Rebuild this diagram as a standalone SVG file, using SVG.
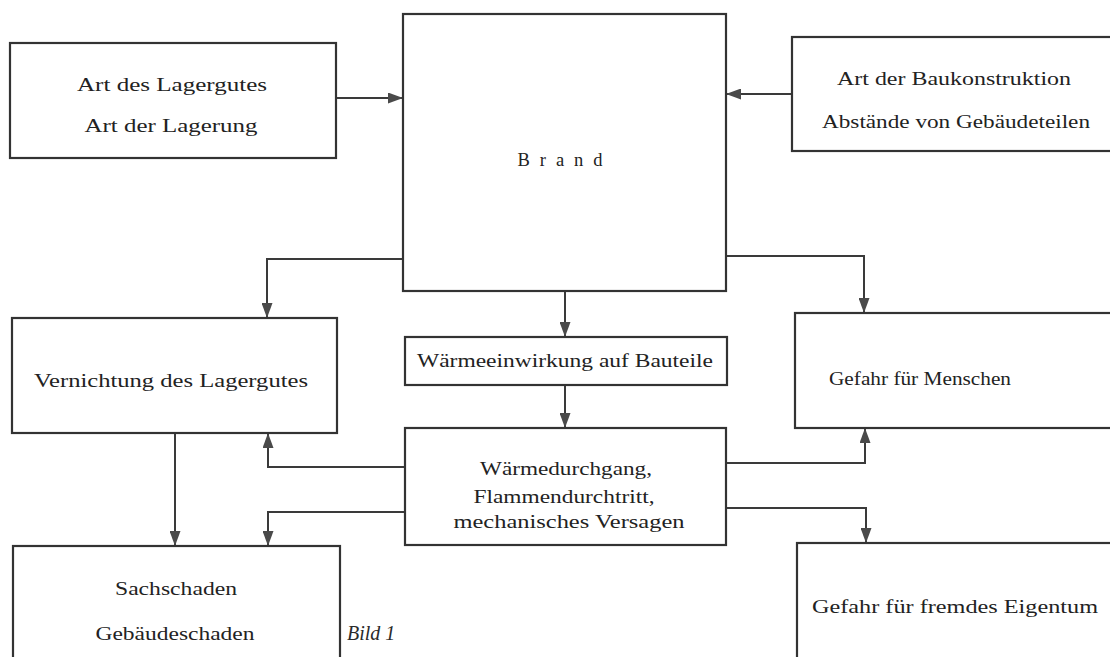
<svg xmlns="http://www.w3.org/2000/svg" width="1110" height="657" viewBox="0 0 1110 657">
<style>
.box{fill:#fff;stroke:#333;stroke-width:2.2}
.con{fill:none;stroke:#3a3a3a;stroke-width:2}
.t{font-family:"Liberation Serif","DejaVu Serif",serif;font-size:18.5px;fill:#222;text-anchor:middle}
.cap{font-family:"Liberation Serif","DejaVu Serif",serif;font-size:20px;font-style:italic;fill:#2a2a2a}
</style>
<defs>
<marker id="ah" markerUnits="userSpaceOnUse" markerWidth="15" markerHeight="11" refX="15" refY="5.5" orient="auto">
<path d="M0,0 L15,5.5 L0,11 z" fill="#4a4a4a"/>
</marker>
</defs>
<rect width="1110" height="657" fill="#fff"/>
<g id="connectors" class="con" marker-end="url(#ah)">
<path d="M336,98 H403"/>
<path d="M792,94 H726"/>
<path d="M403,259 H267 V318"/>
<path d="M726,256 H864 V313"/>
<path d="M565,291 V337"/>
<path d="M565,385 V428"/>
<path d="M175,433 V546"/>
<path d="M405,467 H268 V433"/>
<path d="M405,512 H268 V546"/>
<path d="M726,463 H865 V428"/>
<path d="M726,508 H866 V543"/>
</g>
<g id="lagergut">
<rect class="box" x="10" y="43" width="326" height="115"/>
<text class="t" x="172" y="91" textLength="190" lengthAdjust="spacingAndGlyphs">Art des Lagergutes</text>
<text class="t" x="171" y="132" textLength="173" lengthAdjust="spacingAndGlyphs">Art der Lagerung</text>
</g>
<g id="brand">
<rect class="box" x="403" y="14" width="323" height="277"/>
<text class="t" x="560" y="166" textLength="85" lengthAdjust="spacing">Brand</text>
</g>
<g id="baukonstruktion">
<rect class="box" x="792" y="37" width="330" height="114"/>
<text class="t" x="954" y="85" textLength="234" lengthAdjust="spacingAndGlyphs">Art der Baukonstruktion</text>
<text class="t" x="956" y="128" textLength="268" lengthAdjust="spacingAndGlyphs">Abstände von Gebäudeteilen</text>
</g>
<g id="vernichtung">
<rect class="box" x="12" y="318" width="325" height="115"/>
<text class="t" x="171" y="387" textLength="274" lengthAdjust="spacingAndGlyphs">Vernichtung des Lagergutes</text>
</g>
<g id="waermeeinwirkung">
<rect class="box" x="405" y="337" width="322" height="48"/>
<text class="t" x="565" y="367" textLength="296" lengthAdjust="spacingAndGlyphs">Wärmeeinwirkung auf Bauteile</text>
</g>
<g id="menschen">
<rect class="box" x="795" y="313" width="330" height="115"/>
<text class="t" x="920" y="385" textLength="182" lengthAdjust="spacingAndGlyphs">Gefahr für Menschen</text>
</g>
<g id="waermedurchgang">
<rect class="box" x="405" y="428" width="321" height="117"/>
<text class="t" x="566" y="475" textLength="172" lengthAdjust="spacingAndGlyphs">Wärmedurchgang,</text>
<text class="t" x="564" y="503" textLength="181" lengthAdjust="spacingAndGlyphs">Flammendurchtritt,</text>
<text class="t" x="569" y="528" textLength="231" lengthAdjust="spacingAndGlyphs">mechanisches Versagen</text>
</g>
<g id="sachschaden">
<rect class="box" x="13" y="546" width="327" height="130"/>
<text class="t" x="176" y="595" textLength="122" lengthAdjust="spacingAndGlyphs">Sachschaden</text>
<text class="t" x="175" y="640" textLength="159" lengthAdjust="spacingAndGlyphs">Gebäudeschaden</text>
</g>
<g id="eigentum">
<rect class="box" x="797" y="543" width="330" height="130"/>
<text class="t" x="955" y="613" textLength="286" lengthAdjust="spacingAndGlyphs">Gefahr für fremdes Eigentum</text>
</g>
<text class="cap" x="347" y="640">Bild 1</text>
</svg>
